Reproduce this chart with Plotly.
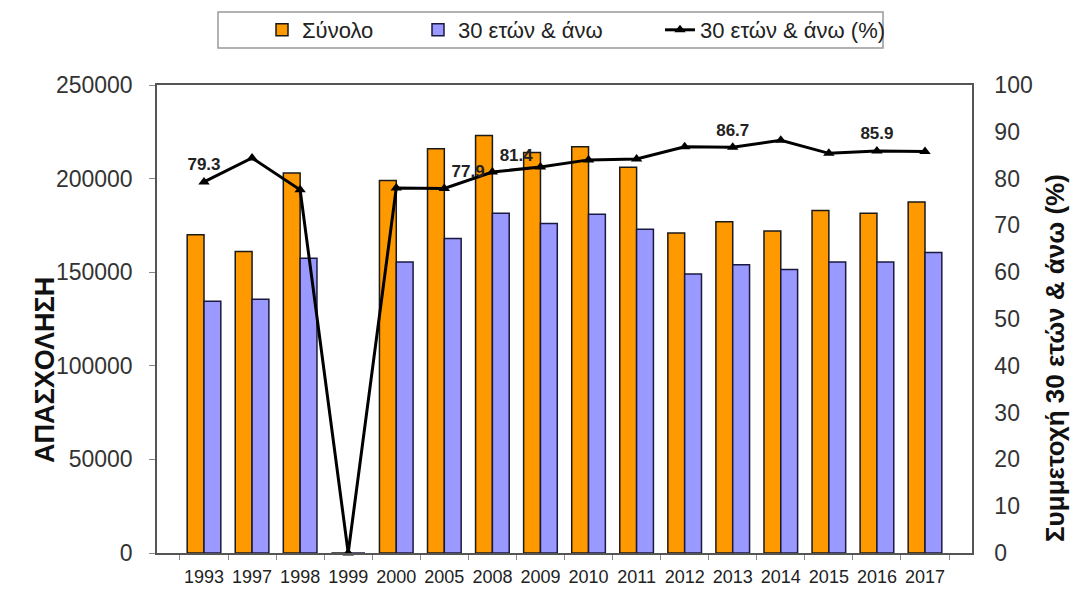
import plotly.graph_objects as go

years = ["1993", "1997", "1998", "1999", "2000", "2005", "2008", "2009", "2010",
         "2011", "2012", "2013", "2014", "2015", "2016", "2017"]
total = [170000, 161000, 203000, 0, 199000, 216000, 223000, 214000, 217000,
         206000, 171000, 177000, 172000, 183000, 181500, 187500]
over30 = [134500, 135500, 157500, 0, 155500, 168000, 181500, 176000, 181000,
          173000, 149000, 154000, 151500, 155500, 155500, 160500]
share = [79.3, 84.4, 77.6, 0, 78.0, 77.9, 81.4, 82.5, 84.0,
         84.2, 86.8, 86.7, 88.2, 85.4, 85.9, 85.8]
share_labels = ["79.3", "", "", "", "", "77.9", "81.4", "", "", "", "", "86.7", "", "", "85.9", ""]
label_pos = ["top center", "top center", "top center", "top center", "top center",
             "top right", "top right", "top center", "top center", "top center",
             "top center", "top center", "top center", "top center", "top center", "top center"]

FONT = "Liberation Sans, Arial, sans-serif"
W, H = 1090, 594
L, R, T, B = 157, 972, 85, 553

fig = go.Figure()
fig.add_trace(go.Bar(x=years, y=total, name="Σύνολο", legend="legend",
                     marker=dict(color="#FF9900", line=dict(color="#1a1a1a", width=1.5))))
fig.add_trace(go.Bar(x=years, y=over30, name="30 ετών & άνω", legend="legend2",
                     marker=dict(color="#9999FF", line=dict(color="#1a1a40", width=1.5))))
fig.add_trace(go.Scatter(x=years, y=share, name="30 ετών & άνω (%)", yaxis="y2",
                         legend="legend3",
                         mode="lines+markers+text",
                         line=dict(color="black", width=3),
                         marker=dict(symbol="triangle-up", size=10, color="black"),
                         text=["<b>%s</b>" % t if t else "" for t in share_labels],
                         textposition=label_pos,
                         textfont=dict(family=FONT, size=17, color="#222222"),
                         cliponaxis=False))

def leg(xpix):
    return dict(orientation="h", xref="container", yref="container",
                x=xpix / W, y=1 - 9 / H, xanchor="left", yanchor="top",
                font=dict(family=FONT, size=22, color="#222222"),
                bgcolor="rgba(0,0,0,0)", borderwidth=0, itemwidth=30)

fig.update_layout(
    width=W, height=H,
    margin=dict(l=L, r=W - R, t=T, b=H - B, autoexpand=False),
    paper_bgcolor="white", plot_bgcolor="white",
    font=dict(family=FONT, color="#333333"),
    barmode="group", bargap=0.3, bargroupgap=0,
    showlegend=True,
    legend=leg(262), legend2=leg(418), legend3=leg(660),
    xaxis=dict(type="category", showline=True, linecolor="#555555", linewidth=1.5,
               mirror=True, ticks="outside", tickson="boundaries", ticklen=5,
               tickcolor="#888888", automargin=False, tickangle=0,
               ticklabelstandoff=7,
               tickfont=dict(family=FONT, size=18, color="#222222"), showgrid=False),
    yaxis=dict(range=[0, 250000], dtick=50000, tickformat="d", showline=True,
               linecolor="#555555", linewidth=1.5, mirror=True, ticks="outside",
               ticklen=6, tickcolor="#888888", showgrid=False, zeroline=False,
               automargin=False, ticklabelstandoff=12,
               tickfont=dict(family=FONT, size=23, color="#333333")),
    yaxis2=dict(range=[0, 100], dtick=10, overlaying="y", side="right",
                showline=True, linecolor="#555555", linewidth=1.5, ticks="",
                showgrid=False, zeroline=False, automargin=False,
                ticklabelstandoff=16,
                tickfont=dict(family=FONT, size=23, color="#333333")),
    shapes=[dict(type="rect", xref="paper", yref="paper",
                 x0=(218 - L) / (R - L), x1=(883 - L) / (R - L),
                 y0=1 + (T - 48) / (B - T), y1=1 + (T - 12) / (B - T),
                 line=dict(color="#999999", width=1.5), fillcolor="rgba(0,0,0,0)")],
    annotations=[
        dict(text="<b>ΑΠΑΣΧΟΛΗΣΗ</b>", xref="paper", yref="paper",
             x=-(L - 28) / (R - L), y=(B - 370) / (B - T), textangle=-90,
             showarrow=False, font=dict(family=FONT, size=27, color="#111111")),
        dict(text="<b>Συμμετοχή 30 ετών & άνω (%)</b>", xref="paper", yref="paper",
             x=1 + (1072 - R) / (R - L), y=(B - 358) / (B - T), textangle=-90,
             showarrow=False, font=dict(family=FONT, size=26, color="#111111")),
    ],
)

fig.write_html("out.html", config={"displayModeBar": False},
               post_script="document.body.style.margin='0px';")
